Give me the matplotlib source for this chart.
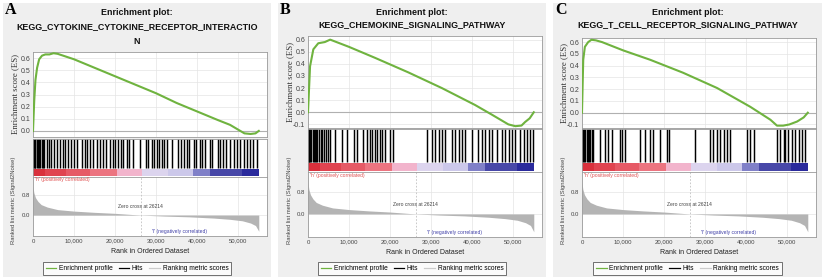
"""GSEA enrichment plots (three KEGG pathways) side by side."""
import matplotlib
matplotlib.use("Agg")
import matplotlib.pyplot as plt
from matplotlib.lines import Line2D
from matplotlib.patches import Rectangle
import numpy as np

plt.rcParams["font.family"] = ["Liberation Sans", "DejaVu Sans"]

W, H = 825, 279
XMAX = 57000
ZERO_CROSS = 26214

# ---------------------------------------------------------------- data ----- #
LETTERS = ["A", "B", "C"]
TITLES = [
    ["Enrichment plot:", "KEGG_CYTOKINE_CYTOKINE_RECEPTOR_INTERACTIO", "N"],
    ["Enrichment plot:", "KEGG_CHEMOKINE_SIGNALING_PATHWAY"],
    ["Enrichment plot:", "KEGG_T_CELL_RECEPTOR_SIGNALING_PATHWAY"],
]

ES_RANKS_A = [0, 300, 600, 1000, 1500, 2200, 3000, 4000, 5000, 6000, 10000, 15000,
              20000, 25000, 30000, 35000, 40000, 45000, 48000, 50000, 51500, 53000,
              54200, 55000]
ES_A = [0, 0.25, 0.42, 0.52, 0.59, 0.62, 0.63, 0.63, 0.64, 0.635, 0.59, 0.52,
        0.45, 0.38, 0.31, 0.23, 0.16, 0.09, 0.05, 0.01, -0.02, -0.025, -0.02, 0.0]

ES_RANKS_B = [0, 500, 1300, 2500, 4100, 5400, 10000, 16300, 24400, 32600, 40700,
              44800, 48800, 50500, 52000, 52900, 54000, 55000]
ES_B = [0, 0.38, 0.52, 0.57, 0.58, 0.60, 0.54, 0.45, 0.33, 0.20, 0.06,
        -0.02, -0.10, -0.115, -0.11, -0.08, -0.05, 0.0]

ES_RANKS_C = [0, 300, 700, 1500, 2300, 3400, 4900, 10000, 16600, 24600, 32900,
              41000, 45900, 47500, 49000, 50500, 52400, 54000, 55000]
ES_C = [0, 0.45, 0.56, 0.60, 0.62, 0.615, 0.60, 0.53, 0.45, 0.34, 0.21,
        0.05, -0.06, -0.11, -0.11, -0.10, -0.075, -0.04, 0.0]

HITS_A = [0, 200, 400, 600, 900, 1200, 1500, 1800, 2100, 2400, 2700, 3300, 4000,
          4500, 5100, 5800, 6600, 7200, 7800, 8600, 9300, 10000, 10600, 11900,
          12700, 13200, 13900, 14700, 15500, 16300, 17000, 17800, 18800, 19600,
          20000, 20800, 21400, 22000, 22800, 23500, 24300, 26100, 27600, 28100,
          28900, 29500, 30200, 30800, 31400, 32000, 32600, 33800, 35400, 36000,
          36700, 37500, 38100, 39100, 39800, 40600, 41100, 42000, 43200, 43600,
          45000, 45600, 46300, 47100, 47900, 48900, 49700, 50500, 51300, 52100,
          52900, 53700, 54600]
HITS_B = [0, 150, 350, 600, 850, 1100, 1400, 1700, 2000, 2300, 2700, 3100, 3500,
          3900, 4300, 4800, 5300, 6600, 8200, 9400, 11100, 11900, 13500, 14300,
          15100, 15500, 16300, 16700, 17600, 18000, 18800, 20000, 20800, 28900,
          30200, 31000, 31800, 32600, 33400, 35000, 35900, 36700, 37500, 38300,
          39900, 41500, 42400, 43200, 44000, 44800, 46000, 47200, 48000, 48900,
          49700, 50500, 51700, 52500, 53300, 54100, 54700]
HITS_C = [0, 250, 500, 800, 1100, 1400, 1700, 2000, 2400, 2800, 4400, 5600, 6400,
          7200, 9300, 9700, 10500, 14100, 15400, 16600, 17400, 19000, 20700,
          21100, 27600, 31200, 32000, 32800, 33700, 34500, 35300, 36100, 40200,
          41000, 41800, 47500, 48300, 49100, 49500, 50300, 51100, 51900, 52800,
          53600, 54400]

# ranked list metric (Signal2Noise), same ranking for every panel
METRIC_RANKS = [0, 200, 600, 1200, 2000, 3500, 6000, 10000, 15000, 20000,
                ZERO_CROSS, 32000, 38000, 44000, 48000, 51000, 53000, 54200, 55000]
METRIC = [1.15, 0.9, 0.7, 0.55, 0.42, 0.32, 0.22, 0.16, 0.11, 0.07,
          0.0, -0.04, -0.07, -0.12, -0.17, -0.23, -0.32, -0.42, -0.65]

# heat-map strip under the hits
CBAR_EDGES = [0, 3000, 8000, 14000, 20500, 26500, 33000, 39000, 43000, 51000, 55000]
CBAR_COLORS = ["#d9303c", "#e04450", "#e65a66", "#ec7480", "#f2b4cc",
               "#dcd4ee", "#ccc8ea", "#8080c8", "#4848a8", "#2a2a9c"]

RANK_TICKS = [0, 10000, 20000, 30000, 40000, 50000]

# --------------------------------------------------------------- layout ---- #
# pixel boxes: gray panel, axes left, title line y's, ES / hits / ranked (top, bottom)
PANELS = [
    dict(bg=(3, 271), left=33, title_y=[12.5, 27, 41.5], es=(52, 137), hits=(139, 177),
         ranked=(177, 236), es_lim=(-0.05, 0.65), es_ticks=np.arange(0, 0.61, 0.1)),
    dict(bg=(278, 546), left=308, title_y=[12.5, 25], es=(36, 128), hits=(129, 172),
         ranked=(172, 237), es_lim=(-0.13, 0.63), es_ticks=np.arange(-0.1, 0.61, 0.1)),
    dict(bg=(553, 822), left=582, title_y=[12.5, 25], es=(38, 128), hits=(129, 172),
         ranked=(172, 237), es_lim=(-0.13, 0.635), es_ticks=np.arange(-0.1, 0.61, 0.1)),
]
AX_W = 234
GREEN = "#6fb33f"
SPINE = "#9a9a9a"
GRID = "#e4e4e4"


def box(l, t, r, b):
    return [l / W, 1 - b / H, (r - l) / W, (b - t) / H]


def fx(px):
    return px / W


def fy(py):
    return 1 - py / H


def style(ax):
    for s in ax.spines.values():
        s.set_color(SPINE)
        s.set_linewidth(0.6)
    ax.tick_params(length=0, labelsize=5, colors="#444444", pad=2)


fig = plt.figure(figsize=(W / 100, H / 100), dpi=100)

series = [(ES_RANKS_A, ES_A, HITS_A), (ES_RANKS_B, ES_B, HITS_B),
          (ES_RANKS_C, ES_C, HITS_C)]

for letter, titles, (ranks, es, hits), p in zip(LETTERS, TITLES, series, PANELS):
    l, r = p["left"], p["left"] + AX_W
    bg0, bg1 = p["bg"]
    cx = (bg0 + bg1) / 2
    fig.add_artist(Rectangle((fx(bg0), fy(277)), (bg1 - bg0) / W, 274 / H,
                             transform=fig.transFigure, facecolor="#efefef",
                             edgecolor="none", zorder=0))
    fig.text(fx(bg0 + 2), fy(10), letter, family="Liberation Serif",
             fontweight="bold", fontsize=11.5, ha="left", va="center")
    for line, y in zip(titles, p["title_y"]):
        fig.text(fx(cx), fy(y), line, fontweight="bold", fontsize=6.4,
                 ha="center", va="center", color="#111111")

    # enrichment score
    ax = fig.add_axes(box(l, p["es"][0], r, p["es"][1]))
    ax.plot(ranks, es, color=GREEN, linewidth=1.5, zorder=3)
    ax.axhline(0, color="#b0b0b0", linewidth=0.8, zorder=2)
    ax.set_xlim(0, XMAX)
    ax.set_ylim(*p["es_lim"])
    ax.set_yticks(p["es_ticks"])
    ax.set_yticklabels([f"{v:.1f}" for v in p["es_ticks"]])
    ax.set_xticks(RANK_TICKS)
    ax.set_xticklabels([])
    ax.grid(True, color=GRID, linewidth=0.5)
    style(ax)
    fig.text(fx(l - 18), fy(sum(p["es"]) / 2), "Enrichment score (ES)",
             family="Liberation Serif", fontsize=6.3, rotation=90,
             ha="center", va="center", color="#333333")

    # hits + heat strip
    axh = fig.add_axes(box(l, p["hits"][0], r, p["hits"][1]))
    axh.vlines(hits, 0.24, 1, color="black", linewidth=1.05)
    axh.bar(CBAR_EDGES[:-1], 0.2, width=np.diff(CBAR_EDGES), bottom=0.02,
            align="edge", color=CBAR_COLORS, linewidth=0)
    axh.set_xlim(0, XMAX)
    axh.set_ylim(0, 1)
    axh.set_xticks([])
    axh.set_yticks([])
    style(axh)

    # ranked list metric
    axr = fig.add_axes(box(l, p["ranked"][0], r, p["ranked"][1]))
    axr.fill_between(METRIC_RANKS, METRIC, 0, color="#b4b4b4", linewidth=0, zorder=2)
    axr.axvline(ZERO_CROSS, color="#c0c0c0", linewidth=0.6, linestyle=(0, (2, 2)))
    axr.set_xlim(0, XMAX)
    axr.set_ylim(-0.84, 1.53)
    axr.set_yticks([0.0, 0.8])
    axr.set_yticklabels(["0.0", "0.8"])
    axr.set_xticks(RANK_TICKS)
    axr.set_xticklabels([f"{t:,}" for t in RANK_TICKS])
    axr.grid(True, color=GRID, linewidth=0.5)
    style(axr)
    axr.tick_params(labelsize=4.3)
    axr.set_xlabel("Rank in Ordered Dataset", fontsize=5, color="#222222", labelpad=3)
    axr.text(500, 1.42, "'h' (positively correlated)", fontsize=3.6,
             color="#e05050", ha="left", va="center")
    axr.text(ZERO_CROSS, 0.33, "Zero cross at 26214", fontsize=3.6,
             color="#444444", ha="center", va="center")
    axr.text(35800, -0.66, "'l' (negatively correlated)", fontsize=3.6,
             color="#4040a8", ha="center", va="center")
    fig.text(fx(l - 19), fy(200), "Ranked list metric (Signal2Noise)",
             fontsize=4.2, rotation=90, ha="center", va="center", color="#444444")

    handles = [Line2D([], [], color=GREEN, linewidth=0.9),
               Line2D([], [], color="black", linewidth=0.9),
               Line2D([], [], color="#cccccc", linewidth=0.9)]
    leg = fig.legend(handles, ["Enrichment profile", "Hits", "Ranking metric scores"],
                     loc="center", bbox_to_anchor=(fx(cx), fy(268.5)), ncol=3,
                     fontsize=4.8, frameon=True, fancybox=False, handlelength=1.6,
                     handletextpad=0.4, columnspacing=0.9, borderpad=0.4)
    leg.get_frame().set_edgecolor("#333333")
    leg.get_frame().set_linewidth(0.6)
    leg.get_frame().set_facecolor("white")

fig.savefig("out.png", dpi=100)
